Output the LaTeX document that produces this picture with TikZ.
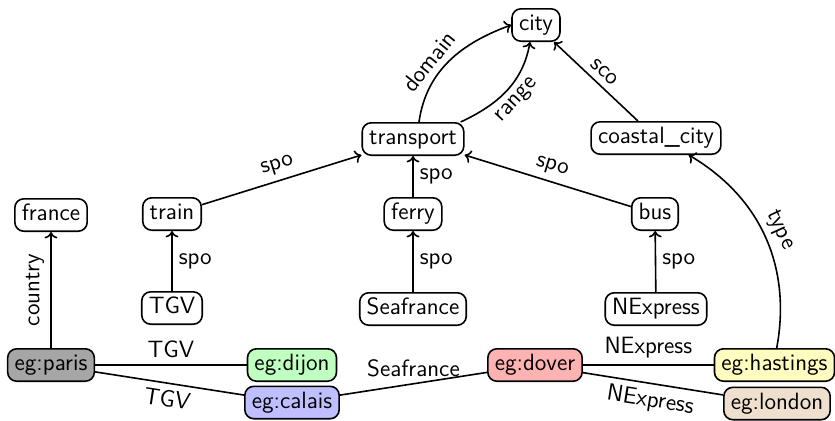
\documentclass[tikz,border=0pt]{standalone}
\usetikzlibrary{arrows.meta}
\begin{document}
\begin{tikzpicture}[x=0.5pt,y=-0.5pt,
  font=\sffamily\fontsize{11.8}{14}\selectfont,
  res/.style={draw, thick, rounded corners=4.5pt, inner xsep=3.5pt, inner ysep=2.75pt,
    text height=8.2pt, text depth=2.5pt},
  rel/.style={thick, ->, >={To[length=3.2pt,width=6.5pt]}},
  link/.style={thick},
  lbl/.style={inner sep=3pt}]
\useasboundingbox (0,0) rectangle (835,420);

% schema
\node[res] (city) at (536,25) {city};
\node[res] (transport) at (413,139) {transport};
\node[res] (coastal) at (656,138) {coastal\_city};
\node[res] (france) at (51,215) {france};
\node[res] (train) at (172,214) {train};
\node[res] (ferry) at (413,214) {ferry};
\node[res] (bus) at (655,214) {bus};
\node[res] (tgv) at (172,308) {TGV};
\node[res] (seafrance) at (413,309) {Seafrance};
\node[res] (nexpress) at (656,309) {NExpress};

% data
\node[res, fill=black!35] (paris) at (51,365) {eg:paris};
\node[res, fill=green!25] (dijon) at (292,365) {eg:dijon};
\node[res, fill=blue!25] (calais) at (292,402.5) {eg:calais};
\node[res, fill=red!30] (dover) at (535,365) {eg:dover};
\node[res, fill=yellow!25] (hastings) at (774.5,365) {eg:hastings};
\node[res, fill=brown!25] (london) at (777,403.5) {eg:london};

% schema relations
\draw[rel] ([xshift=3pt]transport.north) to[out=82, in=200] node[lbl, sloped, above, pos=0.4] {domain} (city.west);
\draw[rel] ([xshift=-2pt]transport.north east) to[out=25, in=-100] node[lbl, sloped, below, pos=0.5] {range} ([xshift=-3pt]city.south);
\draw[rel] (coastal) -- node[lbl, sloped, above] {sco} (city);
\draw[rel] (train) -- node[lbl, sloped, above] {spo} (transport);
\draw[rel] (ferry) -- node[lbl, right] {spo} (transport);
\draw[rel] (bus) -- node[lbl, sloped, above] {spo} (transport);
\draw[rel] (tgv) -- node[lbl, right] {spo} (train);
\draw[rel] (seafrance) -- node[lbl, right] {spo} (ferry);
\draw[rel] (nexpress) -- node[lbl, right] {spo} (bus);
\draw[rel] (paris) -- node[lbl, sloped, above] {country} (france);
\draw[rel] (hastings) to[bend right=35] node[lbl, sloped, above] {type} (coastal);

% data links
\draw[link] (paris) -- node[lbl, above] {TGV} (dijon);
\draw[link] (paris) -- node[lbl, sloped, below] {TGV} (calais);
\draw[link] (calais) -- node[lbl, above] {Seafrance} (dover);
\draw[link] (dover) -- node[lbl, above] {NExpress} (hastings);
\draw[link] (dover) -- node[lbl, sloped, below] {NExpress} (london);
\end{tikzpicture}
\end{document}
